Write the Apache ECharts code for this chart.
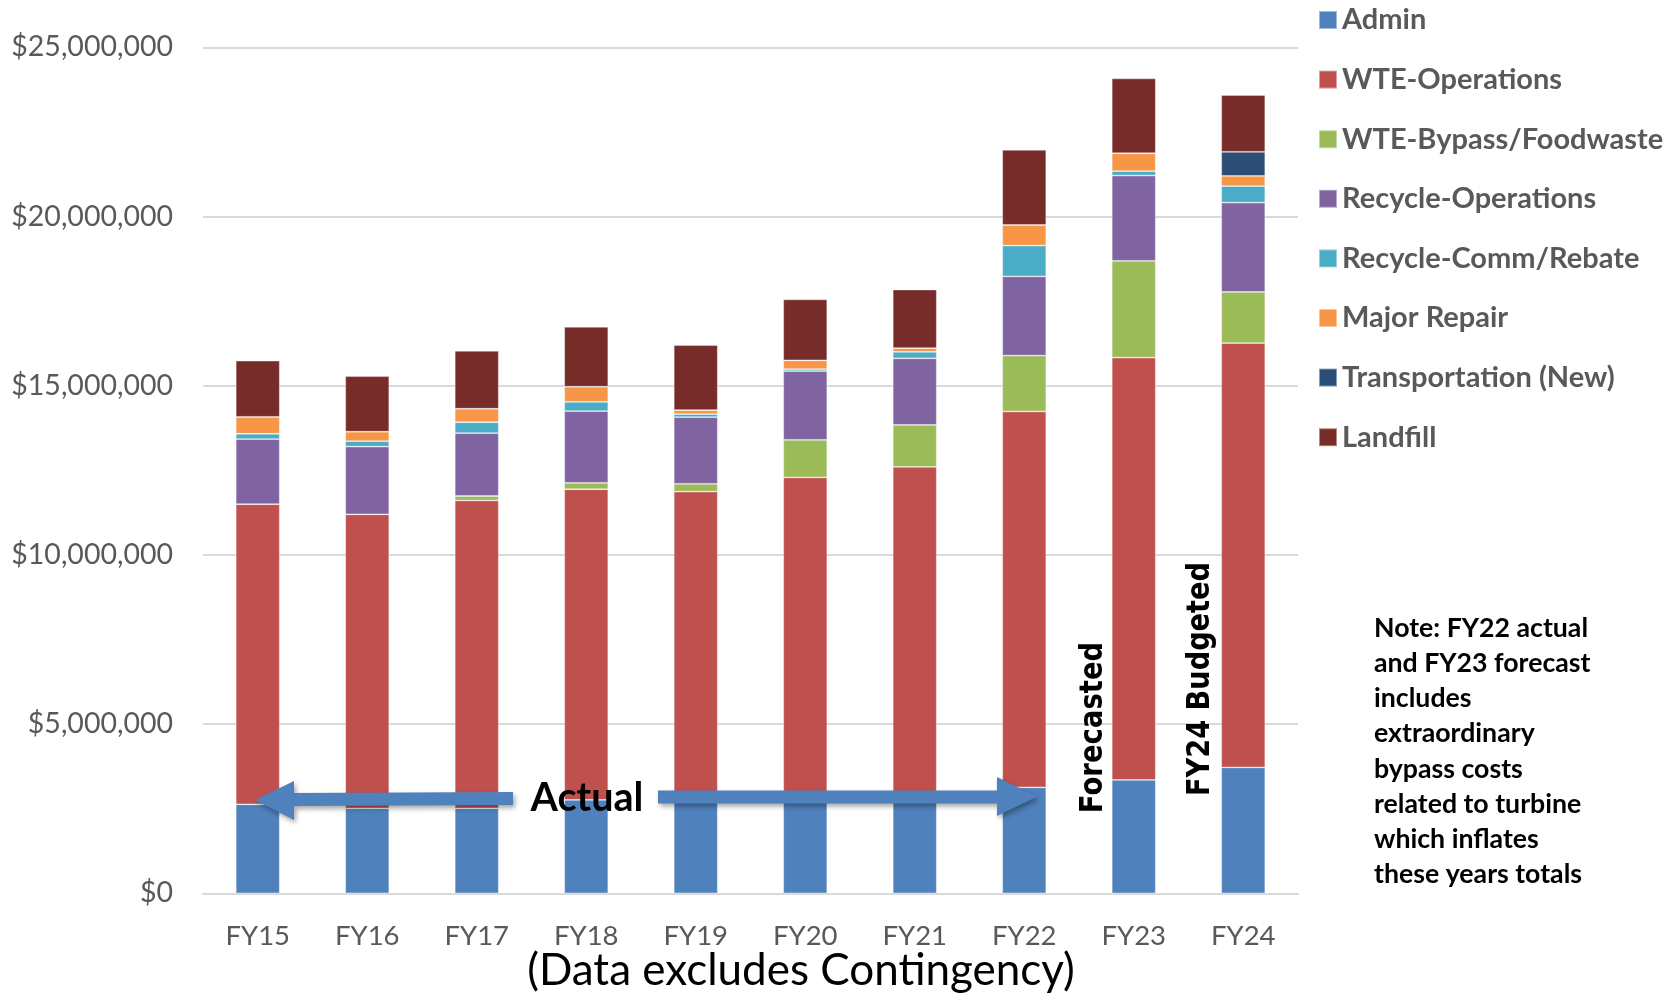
<!DOCTYPE html>
<html>
<head>
<meta charset="utf-8">
<title>Solid Waste Costs FY15–FY24</title>
<script src="https://cdn.jsdelivr.net/npm/echarts@6/dist/echarts.min.js"></script>
<style>
  html, body { margin: 0; padding: 0; background: #ffffff; }
  #chart { width: 1677px; height: 996px; }
</style>
</head>
<body>
<div id="chart"></div>
<script>
// Fiscal years shown along the category axis
const years = ['FY15', 'FY16', 'FY17', 'FY18', 'FY19', 'FY20', 'FY21', 'FY22', 'FY23', 'FY24'];

// Cost components per fiscal year (dollars)
const admin           = [2630000, 2510000, 2510000, 2760000, 2850000, 2900000, 2950000, 3130000, 3350000, 3720000];
const wteOperations   = [8870000, 8690000, 9100000, 9180000, 9020000, 9390000, 9650000, 11110000, 12480000, 12540000];
const wteBypass       = [0, 0, 130000, 190000, 230000, 1110000, 1240000, 1650000, 2860000, 1510000];
const recycleOps      = [1920000, 2000000, 1860000, 2120000, 1970000, 2030000, 1970000, 2340000, 2520000, 2640000];
const recycleComm     = [160000, 160000, 320000, 270000, 90000, 60000, 190000, 910000, 130000, 490000];
const majorRepair     = [500000, 280000, 400000, 450000, 120000, 260000, 110000, 610000, 530000, 300000];
const transportation  = [0, 0, 0, 0, 0, 0, 0, 0, 0, 710000];
const landfill        = [1660000, 1640000, 1710000, 1770000, 1920000, 1800000, 1730000, 2220000, 2210000, 1680000];

// Value axis ticks
const yMax = 25000000;
const yStep = 5000000;

const seriesDefs = [
  { name: 'Admin', data: admin, color: '#4F81BD' },
  { name: 'WTE-Operations', data: wteOperations, color: '#C0504D' },
  { name: 'WTE-Bypass/Foodwaste', data: wteBypass, color: '#9BBB59' },
  { name: 'Recycle-Operations', data: recycleOps, color: '#8064A2' },
  { name: 'Recycle-Comm/Rebate', data: recycleComm, color: '#4BACC6' },
  { name: 'Major Repair', data: majorRepair, color: '#F79646' },
  { name: 'Transportation (New)', data: transportation, color: '#2C4D75' },
  { name: 'Landfill', data: landfill, color: '#772C2A' }
];

const chart = echarts.init(document.getElementById('chart'), null, { renderer: 'canvas' });

const arrowStyle = {
  fill: '#4F81BD',
  shadowBlur: 5,
  shadowColor: 'rgba(0,0,0,0.35)',
  shadowOffsetX: 2,
  shadowOffsetY: 3
};

chart.setOption({
  backgroundColor: '#ffffff',
  animation: false,
  color: seriesDefs.map(s => s.color),
  grid: { left: 203, right: 379, top: 47.3, bottom: 102.7, containLabel: false },
  legend: {
    orient: 'vertical',
    left: 1313,
    top: 0,
    itemWidth: 18,
    itemHeight: 18,
    itemGap: 29.6,
    icon: 'rect',
    selectedMode: false,
    data: seriesDefs.map(s => s.name),
    textStyle: {
      fontFamily: 'Lato',
      fontWeight: 'bold',
      fontSize: 29,
      lineHeight: 30,
      color: '#595959'
    }
  },
  xAxis: {
    type: 'category',
    data: years,
    axisLine: { show: true, lineStyle: { color: '#D9D9D9', width: 2 } },
    axisTick: { show: false },
    axisLabel: {
      fontFamily: 'Lato',
      fontSize: 27.5,
      color: '#595959',
      margin: 29
    }
  },
  yAxis: {
    type: 'value',
    min: 0,
    max: yMax,
    interval: yStep,
    axisLine: { show: false },
    axisTick: { show: false },
    splitLine: { lineStyle: { color: '#D9D9D9', width: 2 } },
    axisLabel: {
      fontFamily: 'Lato',
      fontSize: 28.5,
      color: '#595959',
      margin: 30,
      formatter: v => '$' + v.toLocaleString('en-US')
    }
  },
  series: seriesDefs.map(s => ({
    name: s.name,
    type: 'bar',
    stack: 'total',
    barWidth: 44,
    data: s.data,
    itemStyle: {
      color: s.color,
      borderColor: 'rgba(255,255,255,0.45)',
      borderWidth: 0.8
    }
  })),
  graphic: [
    // "Actual" span arrows
    {
      type: 'polygon', z: 100,
      shape: { points: [[255, 800], [294, 781], [294, 793], [513, 792], [513, 805], [294, 806], [294, 820]] },
      style: arrowStyle
    },
    {
      type: 'polygon', z: 100,
      shape: { points: [[658, 790.5], [997, 790.5], [997, 777], [1037, 796.7], [997, 816], [997, 803.5], [658, 803.5]] },
      style: arrowStyle
    },
    {
      type: 'text', z: 101,
      x: 587, y: 798.5,
      style: {
        text: 'Actual',
        font: 'bold 39.5px Lato',
        fill: '#000000',
        align: 'center',
        verticalAlign: 'middle'
      }
    },
    // Vertical period labels
    {
      type: 'text', z: 101,
      x: 1094, y: 727.5,
      rotation: Math.PI / 2,
      scaleY: 1.15,
      style: {
        text: 'Forecasted',
        font: 'bold 27.5px "DejaVu Sans"',
        fill: '#000000',
        align: 'center',
        verticalAlign: 'middle'
      }
    },
    {
      type: 'text', z: 101,
      x: 1201, y: 679,
      rotation: Math.PI / 2,
      scaleY: 1.15,
      style: {
        text: 'FY24 Budgeted',
        font: 'bold 27.2px "DejaVu Sans"',
        fill: '#000000',
        align: 'center',
        verticalAlign: 'middle'
      }
    },
    // Footnote
    {
      type: 'text', z: 101,
      x: 1374, y: 610.5,
      style: {
        text: 'Note: FY22 actual\nand FY23 forecast\nincludes\nextraordinary\nbypass costs\nrelated to turbine\nwhich inflates\nthese years totals',
        font: 'bold 26.7px Lato',
        lineHeight: 35.2,
        fill: '#000000',
        align: 'left',
        verticalAlign: 'top'
      }
    },
    // Axis caption
    {
      type: 'text', z: 101,
      x: 801, y: 971,
      style: {
        text: '(Data excludes Contingency)',
        font: '44px Lato',
        fill: '#000000',
        align: 'center',
        verticalAlign: 'middle'
      }
    }
  ]
});
</script>
</body>
</html>
